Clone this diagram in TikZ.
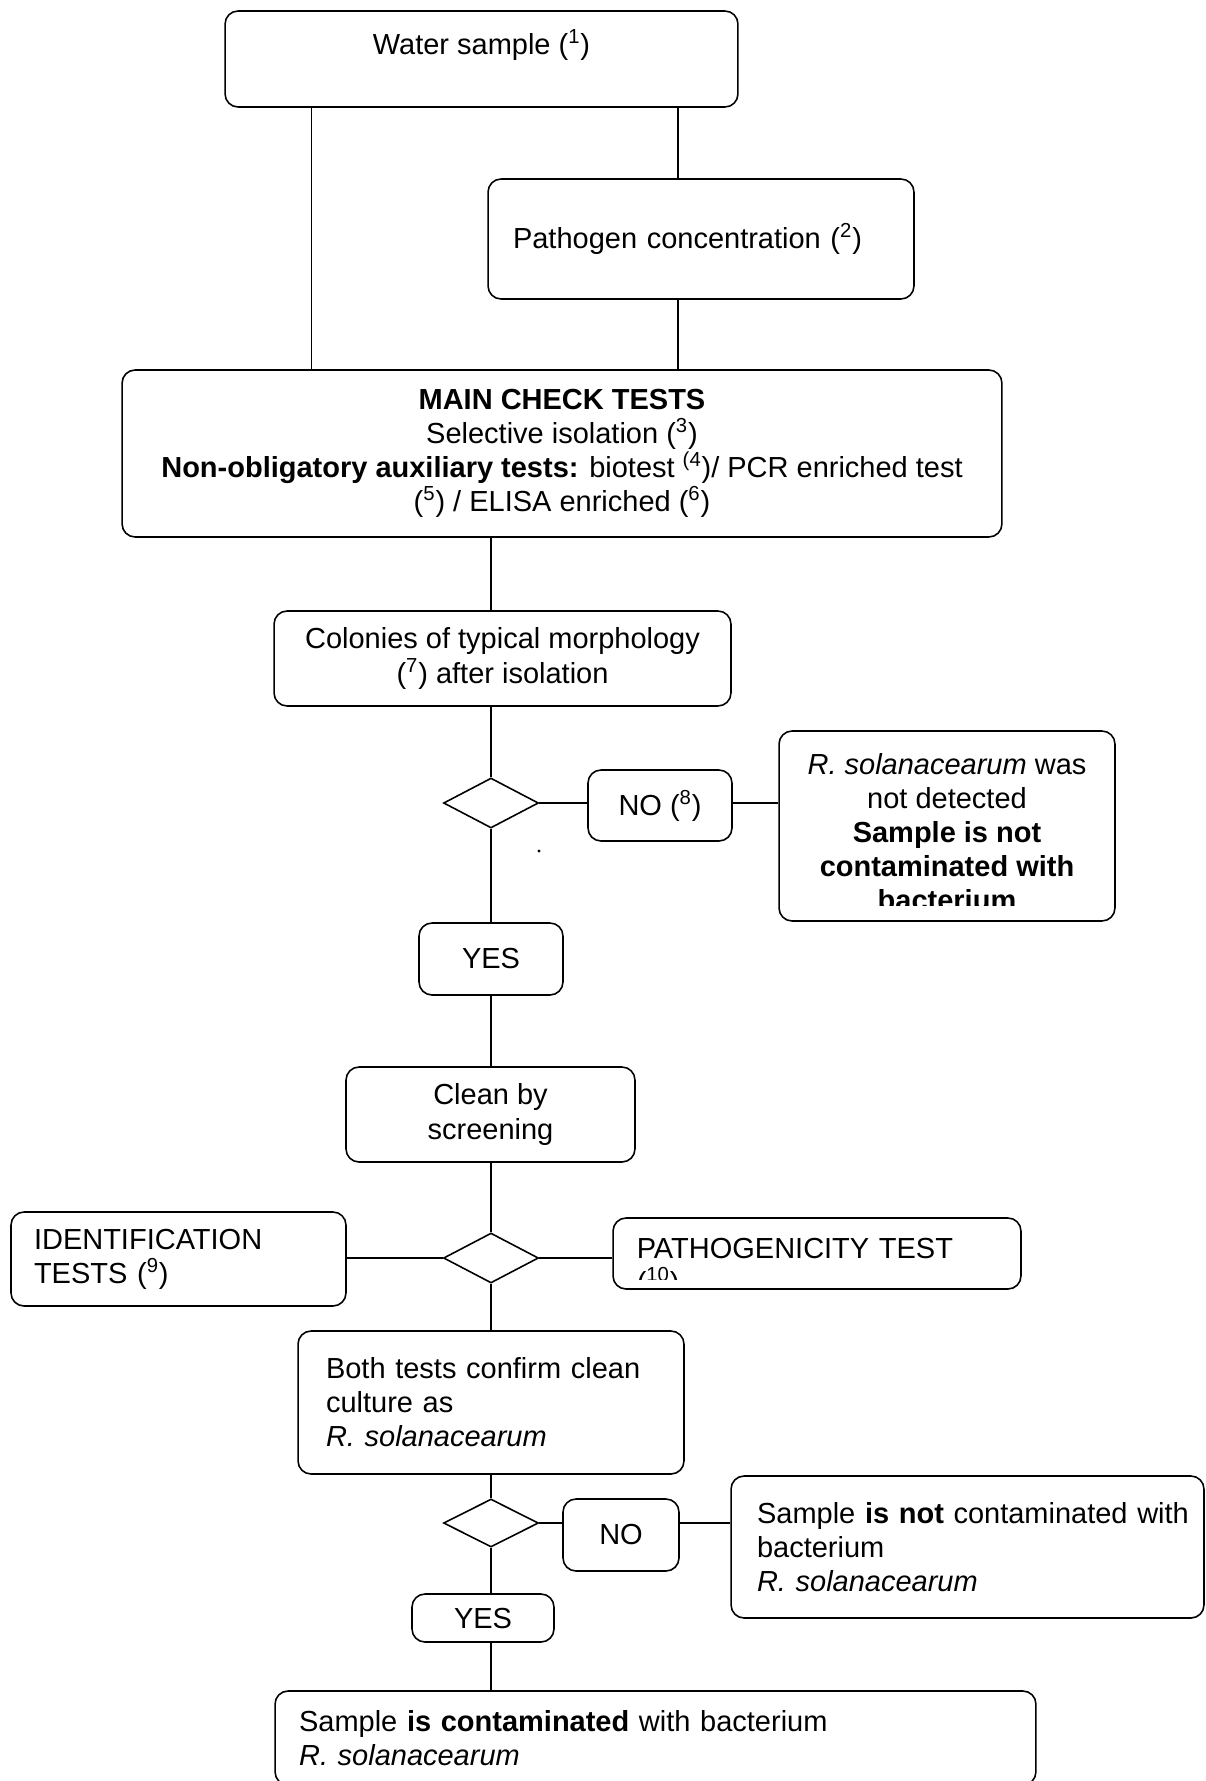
\documentclass[tikz,border=0pt]{standalone}
\usepackage{fontspec}
\setmainfont{Liberation Sans}
\usetikzlibrary{shapes.geometric,calc}

\begin{document}
\begin{tikzpicture}[
    x=0.02cm, y=-0.02cm,
    font=\fontsize{16.5}{19.4}\selectfont,
    box/.style={draw, rounded corners=0.26cm, line width=0.9pt, inner sep=0pt, align=center},
    lbox/.style={box, align=left},
    decision/.style={draw, diamond, line width=0.9pt, inner sep=0pt, minimum width=1.9cm, minimum height=1cm},
    link/.style={line width=0.6pt},
    hlink/.style={line width=1pt}
]
\useasboundingbox (0,0) rectangle (1206,1781);

% top part
\node[box, minimum width=10.26cm, minimum height=1.92cm] (water) at (481.5,59) {Water sample (\textsuperscript{1})\\~};
\node[lbox, minimum width=8.52cm, minimum height=2.4cm, text width=7.52cm, inner xsep=0.5cm] (conc) at (701,239) {Pathogen concentration (\textsuperscript{2})};
\node[box, minimum width=17.6cm, minimum height=3.34cm] (main) at (562,453.5) {\textbf{MAIN CHECK TESTS}\\Selective isolation (\textsuperscript{3})\\\textbf{Non-obligatory auxiliary tests:} biotest \textsuperscript{(4})/ PCR enriched test\\(\textsuperscript{5}) / ELISA enriched (\textsuperscript{6})};
\node[box, minimum width=9.14cm, minimum height=1.9cm] (colonies) at (502.5,658.5) {Colonies of typical morphology\\(\textsuperscript{7}) after isolation};

% first decision
\node[decision] (dia1) at (491,803) {};
\node[box, minimum width=2.88cm, minimum height=1.42cm] (no1) at (660,805.5) {NO (\textsuperscript{8})};
\node[box, minimum width=6.72cm, minimum height=3.8cm] (notdet) at (947,826) {};
\begin{scope}
  \clip (notdet.north west) rectangle ([yshift=0.32cm]notdet.south east);
  \node[align=center, inner sep=0pt] (notdettext) at (947,832) {\textit{R. solanacearum} was\\not detected\\\textbf{Sample is not}\\\textbf{contaminated with}\\\textbf{bacterium}};
\end{scope}
\node[box, minimum width=2.88cm, minimum height=1.44cm] (yes1) at (491,959) {YES};
\node[box, minimum width=5.78cm, minimum height=1.9cm] (clean) at (490.5,1114.5) {Clean by\\screening};

% second decision
\node[decision] (dia2) at (491,1258) {};
\node[lbox, minimum width=6.7cm, minimum height=1.88cm, text width=5.78cm, inner xsep=0.46cm] (ident) at (178.5,1259) {IDENTIFICATION\\TESTS (\textsuperscript{9})};
\node[box, minimum width=8.16cm, minimum height=1.42cm] (patho) at (817,1253.5) {};
\begin{scope}
  \clip (patho.north west) rectangle ([yshift=0.2cm]patho.south east);
  \node[lbox, draw=none, text width=7.7cm, anchor=north west] (pathotext) at (636,1237) {PATHOGENICITY TEST\\(\textsuperscript{10})};
\end{scope}
\node[lbox, minimum width=7.72cm, minimum height=2.86cm, text width=6.6cm, inner xsep=0.56cm] (both) at (491,1402.5) {Both tests confirm clean\\culture as\\\textit{R. solanacearum}\\[0.4cm]};

% third decision
\node[decision, minimum height=0.96cm] (dia3) at (491,1523) {};
\node[box, minimum width=2.32cm, minimum height=1.44cm] (no2) at (621,1535) {NO};
\node[lbox, minimum width=9.46cm, minimum height=2.84cm, text width=8.42cm, inner xsep=0.52cm] (notcont) at (967.5,1547) {\mbox{Sample \textbf{is not} contaminated with}\\bacterium\\\textit{R. solanacearum}\\[0.4cm]};
\node[box, minimum width=2.84cm, minimum height=0.96cm] (yes2) at (483,1618) {YES};
\node[lbox, minimum width=15.22cm, minimum height=1.88cm, text width=14.26cm, inner xsep=0.48cm] (final) at (655.5,1738) {Sample \textbf{is contaminated} with bacterium\\\textit{R. solanacearum}};

\fill (539,851) circle (0.9pt);

% connectors
\draw[link] ([xshift=1.74cm]water.south west) -- ([xshift=1.74cm]water.south west |- main.north);
\draw[link] ([xshift=-0.46cm]conc.north) -- ([xshift=-0.46cm]conc.north |- water.south);
\draw[link] ([xshift=-0.46cm]conc.south) -- ([xshift=-0.46cm]conc.south |- main.north);
\draw[link] (dia1.north |- main.south) -- (dia1.north |- colonies.north);
\draw[link] (dia1.north |- colonies.south) -- (dia1.north);
\draw[hlink] (dia1.east) -- (dia1.east -| no1.west);
\draw[hlink] (dia1.east -| no1.east) -- (dia1.east -| notdet.west);
\draw[link] (dia1.south) -- (yes1.north);
\draw[link] (yes1.south) -- (yes1.south |- clean.north);
\draw[link] (dia2.north |- clean.south) -- (dia2.north);
\draw[hlink] (dia2.west) -- (dia2.west -| ident.east);
\draw[hlink] (dia2.east) -- (dia2.east -| patho.west);
\draw[link] (dia2.south) -- (dia2.south |- both.north);
\draw[link] (dia3.north |- both.south) -- (dia3.north);
\draw[hlink] (dia3.east) -- (dia3.east -| no2.west);
\draw[hlink] (dia3.east -| no2.east) -- (dia3.east -| notcont.west);
\draw[link] (dia3.south) -- (dia3.south |- yes2.north);
\draw[link] (dia3.south |- yes2.south) -- (dia3.south |- final.north);
\end{tikzpicture}
\end{document}
